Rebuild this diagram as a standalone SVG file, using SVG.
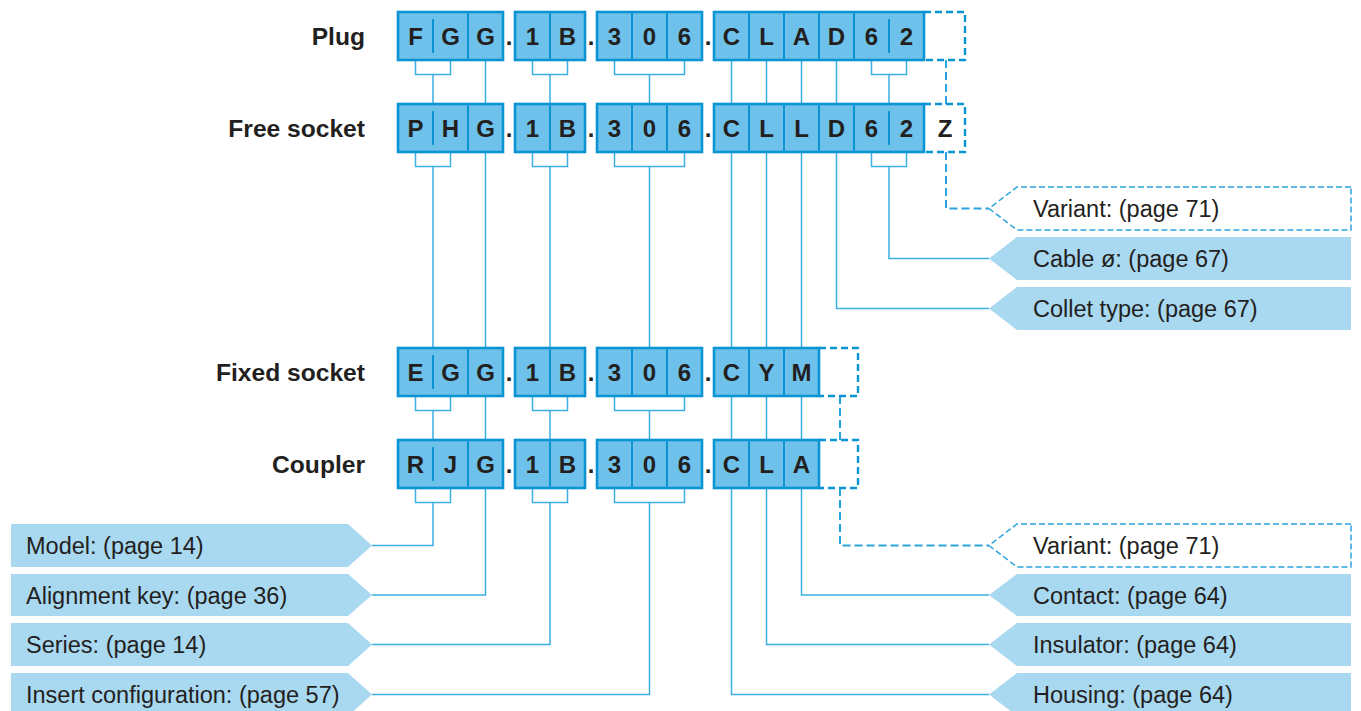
<svg xmlns="http://www.w3.org/2000/svg" width="1361" height="711" viewBox="0 0 1361 711">
<style>
.bx{fill:#6dc1ea;stroke:#0a94d4;stroke-width:2.6}
.dv{stroke:#0a94d4;stroke-width:2}
.dsh{fill:none;stroke:#0a94d4;stroke-width:2.4;stroke-dasharray:7 4}
.ch{font-family:"Liberation Sans",Arial,sans-serif;font-weight:bold;font-size:24px;fill:#231f20;text-anchor:middle}
.rl{font-family:"Liberation Sans",Arial,sans-serif;font-weight:bold;font-size:24.6px;fill:#231f20;text-anchor:end}
.lt{font-family:"Liberation Sans",Arial,sans-serif;font-size:23.5px;fill:#231f20}
.lb{fill:#a9d8f1}
.lbd{fill:#ffffff;stroke:#2aa3dc;stroke-width:1.5;stroke-dasharray:6 3}
.cn{fill:none;stroke:#3cb0e4;stroke-width:1.5}
.cnd{fill:none;stroke:#2aa3dc;stroke-width:2;stroke-dasharray:8 4}
</style>
<g id="connectors">
<path class="cn" d="M415.5,60V74.5H450.5V60M532.5,60V74.5H567.5V60M614.5,60V74.5H684.5V60M871.5,60V74.5H906.5V60"/>
<path class="cn" d="M415.5,152V166.5H450.5V152M532.5,152V166.5H567.5V152M614.5,152V166.5H684.5V152M871.5,152V166.5H906.5V152"/>
<path class="cn" d="M415.5,396V410.5H450.5V396M532.5,396V410.5H567.5V396M614.5,396V410.5H684.5V396"/>
<path class="cn" d="M415.5,488V502.5H450.5V488M532.5,488V502.5H567.5V488M614.5,488V502.5H684.5V488"/>
<path class="cn" d="M433,74.5V104M485.5,60V104M550,74.5V104M649.5,74.5V104M731.5,60V104M766.5,60V104M801.5,60V104M836.5,60V104M889,74.5V104"/>
<path class="cn" d="M433,166.5V348M485.5,152V348M550,166.5V348M649.5,166.5V348M731.5,152V348M766.5,152V348M801.5,152V348"/>
<path class="cn" d="M836.5,152V308.5H989M889,166.5V258.5H989"/>
<path class="cn" d="M433,410.5V440M485.5,396V440M550,410.5V440M649.5,410.5V440M731.5,396V440M766.5,396V440M801.5,396V440"/>
<path class="cn" d="M433,502.5V545.5H372M485.5,488V595H372M550,502.5V644.5H372M649.5,502.5V694.5H372"/>
<path class="cn" d="M801.5,488V595H989M766.5,488V644.5H989M731.5,488V694.5H989"/>
<path class="cnd" d="M946,60V104M946,152V208.5H989M840,396V440M840,488V545.5H989"/>
</g>
<g id="row-plug">
<text class="rl" x="365" y="45">Plug</text>
<rect class="bx" x="398" y="12" width="105" height="48"/>
<path class="dv" d="M433,19V53M468,12V60"/>
<rect class="bx" x="515" y="12" width="70" height="48"/>
<path class="dv" d="M550,12V60"/>
<rect class="bx" x="597" y="12" width="105" height="48"/>
<path class="dv" d="M632,12V60M667,12V60"/>
<rect class="bx" x="714" y="12" width="210" height="48"/>
<path class="dv" d="M749,12V60M784,12V60M819,12V60M854,12V60M889,19V53"/>
<path class="dsh" d="M924,12H965V60H924"/>
<text class="ch" y="45"><tspan x="415.5">F</tspan><tspan x="450.5">G</tspan><tspan x="485.5">G</tspan><tspan x="509">.</tspan><tspan x="532.5">1</tspan><tspan x="567.5">B</tspan><tspan x="591">.</tspan><tspan x="614.5">3</tspan><tspan x="649.5">0</tspan><tspan x="684.5">6</tspan><tspan x="708">.</tspan><tspan x="731.5">C</tspan><tspan x="766.5">L</tspan><tspan x="801.5">A</tspan><tspan x="836.5">D</tspan><tspan x="871.5">6</tspan><tspan x="906.5">2</tspan></text>
</g>
<g id="row-free-socket">
<text class="rl" x="365" y="137">Free socket</text>
<rect class="bx" x="398" y="104" width="105" height="48"/>
<path class="dv" d="M433,111V145M468,104V152"/>
<rect class="bx" x="515" y="104" width="70" height="48"/>
<path class="dv" d="M550,104V152"/>
<rect class="bx" x="597" y="104" width="105" height="48"/>
<path class="dv" d="M632,104V152M667,104V152"/>
<rect class="bx" x="714" y="104" width="210" height="48"/>
<path class="dv" d="M749,104V152M784,104V152M819,104V152M854,104V152M889,111V145"/>
<path class="dsh" d="M924,104H965V152H924"/>
<text class="ch" y="137"><tspan x="415.5">P</tspan><tspan x="450.5">H</tspan><tspan x="485.5">G</tspan><tspan x="509">.</tspan><tspan x="532.5">1</tspan><tspan x="567.5">B</tspan><tspan x="591">.</tspan><tspan x="614.5">3</tspan><tspan x="649.5">0</tspan><tspan x="684.5">6</tspan><tspan x="708">.</tspan><tspan x="731.5">C</tspan><tspan x="766.5">L</tspan><tspan x="801.5">L</tspan><tspan x="836.5">D</tspan><tspan x="871.5">6</tspan><tspan x="906.5">2</tspan><tspan x="945">Z</tspan></text>
</g>
<g id="row-fixed-socket">
<text class="rl" x="365" y="381">Fixed socket</text>
<rect class="bx" x="398" y="348" width="105" height="48"/>
<path class="dv" d="M433,355V389M468,348V396"/>
<rect class="bx" x="515" y="348" width="70" height="48"/>
<path class="dv" d="M550,348V396"/>
<rect class="bx" x="597" y="348" width="105" height="48"/>
<path class="dv" d="M632,348V396M667,348V396"/>
<rect class="bx" x="714" y="348" width="105" height="48"/>
<path class="dv" d="M749,348V396M784,348V396"/>
<path class="dsh" d="M819,348H858V396H819"/>
<text class="ch" y="381"><tspan x="415.5">E</tspan><tspan x="450.5">G</tspan><tspan x="485.5">G</tspan><tspan x="509">.</tspan><tspan x="532.5">1</tspan><tspan x="567.5">B</tspan><tspan x="591">.</tspan><tspan x="614.5">3</tspan><tspan x="649.5">0</tspan><tspan x="684.5">6</tspan><tspan x="708">.</tspan><tspan x="731.5">C</tspan><tspan x="766.5">Y</tspan><tspan x="801.5">M</tspan></text>
</g>
<g id="row-coupler">
<text class="rl" x="365" y="473">Coupler</text>
<rect class="bx" x="398" y="440" width="105" height="48"/>
<path class="dv" d="M433,447V481M468,440V488"/>
<rect class="bx" x="515" y="440" width="70" height="48"/>
<path class="dv" d="M550,440V488"/>
<rect class="bx" x="597" y="440" width="105" height="48"/>
<path class="dv" d="M632,440V488M667,440V488"/>
<rect class="bx" x="714" y="440" width="105" height="48"/>
<path class="dv" d="M749,440V488M784,440V488"/>
<path class="dsh" d="M819,440H858V488H819"/>
<text class="ch" y="473"><tspan x="415.5">R</tspan><tspan x="450.5">J</tspan><tspan x="485.5">G</tspan><tspan x="509">.</tspan><tspan x="532.5">1</tspan><tspan x="567.5">B</tspan><tspan x="591">.</tspan><tspan x="614.5">3</tspan><tspan x="649.5">0</tspan><tspan x="684.5">6</tspan><tspan x="708">.</tspan><tspan x="731.5">C</tspan><tspan x="766.5">L</tspan><tspan x="801.5">A</tspan></text>
</g>
<g id="label-model"><polygon class="lb" points="11,524 348,524 372,545.5 348,567 11,567"/><text class="lt" x="26" y="554">Model: (page 14)</text></g>
<g id="label-alignment-key"><polygon class="lb" points="11,574 348,574 372,595 348,616 11,616"/><text class="lt" x="26" y="603.5">Alignment key: (page 36)</text></g>
<g id="label-series"><polygon class="lb" points="11,623 348,623 372,644.5 348,666 11,666"/><text class="lt" x="26" y="653">Series: (page 14)</text></g>
<g id="label-insert-configuration"><polygon class="lb" points="11,673 348,673 372,694.5 348,716 11,716"/><text class="lt" x="26" y="703">Insert configuration: (page 57)</text></g>
<g id="label-variant-top"><polygon class="lbd" points="1351,187 1017,187 989,208.5 1017,230 1351,230"/><text class="lt" x="1033" y="217">Variant: (page 71)</text></g>
<g id="label-cable"><polygon class="lb" points="1351,237 1017,237 989,258.5 1017,280 1351,280"/><text class="lt" x="1033" y="267">Cable ø: (page 67)</text></g>
<g id="label-collet"><polygon class="lb" points="1351,287 1017,287 989,308.5 1017,330 1351,330"/><text class="lt" x="1033" y="317">Collet type: (page 67)</text></g>
<g id="label-variant-bottom"><polygon class="lbd" points="1351,524 1017,524 989,545.5 1017,567 1351,567"/><text class="lt" x="1033" y="554">Variant: (page 71)</text></g>
<g id="label-contact"><polygon class="lb" points="1351,574 1017,574 989,595 1017,616 1351,616"/><text class="lt" x="1033" y="603.5">Contact: (page 64)</text></g>
<g id="label-insulator"><polygon class="lb" points="1351,623 1017,623 989,644.5 1017,666 1351,666"/><text class="lt" x="1033" y="653">Insulator: (page 64)</text></g>
<g id="label-housing"><polygon class="lb" points="1351,673 1017,673 989,694.5 1017,716 1351,716"/><text class="lt" x="1033" y="703">Housing: (page 64)</text></g>
</svg>
